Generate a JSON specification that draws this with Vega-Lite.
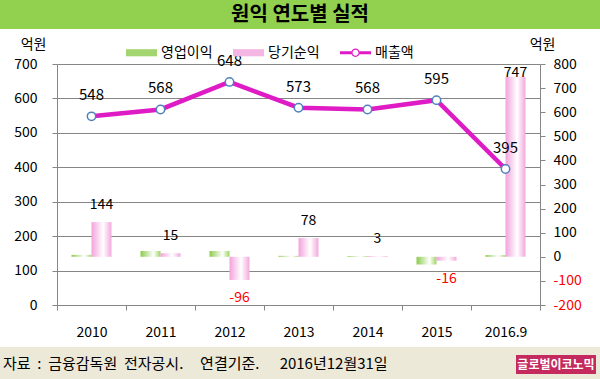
{
  "$schema": "https://vega.github.io/schema/vega-lite/v6.json",
  "padding": 0,
  "background": "white",
  "config": {"font": "Noto Sans CJK KR", "view": {"stroke": null}},
  "datasets": {
    "bars": [
      {"year": "2010", "series": "영업이익", "value": 8},
      {"year": "2010", "series": "당기순익", "value": 144},
      {"year": "2011", "series": "영업이익", "value": 24},
      {"year": "2011", "series": "당기순익", "value": 15},
      {"year": "2012", "series": "영업이익", "value": 24},
      {"year": "2012", "series": "당기순익", "value": -96},
      {"year": "2013", "series": "영업이익", "value": 4},
      {"year": "2013", "series": "당기순익", "value": 78},
      {"year": "2014", "series": "영업이익", "value": 3},
      {"year": "2014", "series": "당기순익", "value": 3},
      {"year": "2015", "series": "영업이익", "value": -32},
      {"year": "2015", "series": "당기순익", "value": -16},
      {"year": "2016.9", "series": "영업이익", "value": 7},
      {"year": "2016.9", "series": "당기순익", "value": 747}
    ],
    "revenue": [
      {"year": "2010", "revenue": 548},
      {"year": "2011", "revenue": 568},
      {"year": "2012", "revenue": 648},
      {"year": "2013", "revenue": 573},
      {"year": "2014", "revenue": 568},
      {"year": "2015", "revenue": 595},
      {"year": "2016.9", "revenue": 395}
    ]
  },
  "spacing": 8,
  "vconcat": [
    {
      "width": 600,
      "height": 29,
      "view": {"fill": "#92D050", "stroke": null},
      "data": {"values": [{"t": "원익 연도별 실적"}]},
      "mark": {"type": "text", "fontSize": 20, "fontWeight": "bold", "color": "#000000"},
      "encoding": {"text": {"field": "t", "type": "nominal"}}
    },
    {
      "spacing": 0,
      "hconcat": [
        {"width": 1, "height": 1, "data": {"values": []}, "mark": "point"},
        {
          "width": 483,
          "height": 241,
          "view": {"fill": "white", "stroke": null},
          "encoding": {
            "x": {
              "field": "year",
              "type": "nominal",
              "scale": {"domain": ["2010", "2011", "2012", "2013", "2014", "2015", "2016.9"], "paddingInner": 0, "paddingOuter": 0},
              "axis": {"title": null, "labelAngle": 0, "labelFontSize": 14, "labelColor": "#000000", "labelPadding": 15, "tickBand": "extent", "tickSize": 5, "tickColor": "#868686", "domainColor": "#868686", "grid": false}
            }
          },
          "layer": [
            {
              "data": {"name": "bars"},
              "encoding": {
                "y": {
                  "field": "value",
                  "type": "quantitative",
                  "scale": {"domain": [-200, 800]},
                  "axis": {
                    "orient": "right",
                    "title": "억원",
                    "titleAngle": 0,
                    "titleAlign": "center",
                    "titleBaseline": "middle",
                    "titleX": 2,
                    "titleY": -20,
                    "titleFontSize": 14,
                    "titleFontWeight": "normal",
                    "titleColor": "#000000",
                    "values": [-200, -100, 0, 100, 200, 300, 400, 500, 600, 700, 800],
                    "labelExpr": "'' + datum.value",
                    "grid": false,
                    "labelFontSize": 14,
                    "labelColor": {"condition": {"test": "datum.value < 0", "value": "#FF0000"}, "value": "#000000"},
                    "labelPadding": 8,
                    "tickSize": 5,
                    "tickColor": "#868686",
                    "domainColor": "#868686"
                  }
                }
              },
              "layer": [
                {
                  "mark": {"type": "point", "filled": true, "opacity": 0},
                  "encoding": {
                    "color": {
                      "field": "series",
                      "type": "nominal",
                      "scale": {"domain": ["영업이익", "당기순익", "매출액"], "range": ["#A3D670", "#F4B6E3", "#DF1BC6"]},
                      "legend": {
                        "title": null,
                        "orient": "none",
                        "direction": "horizontal",
                        "legendX": 126,
                        "legendY": 37,
                        "labelFontSize": 14,
                        "labelColor": "#000000",
                        "labelOffset": 4,
                        "columnPadding": 20,
                        "symbolSize": 961,
                        "encode": {
                          "symbols": {
                            "update": {
                              "shape": {"signal": "datum.value === '매출액' ? 'M-1,-0.1H-0.26V0.1H-1Z M0.26,-0.1H1V0.1H0.26Z M0.27,0A0.27,0.27 0 1 0 -0.27,0A0.27,0.27 0 1 0 0.27,0Z M0.19,0A0.19,0.19 0 1 1 -0.19,0A0.19,0.19 0 1 1 0.19,0Z' : 'M-1,-0.23H1V0.23H-1Z'"},
                              "strokeWidth": {"value": 0},
                              "opacity": {"value": 1}
                            }
                          }
                        }
                      }
                    }
                  }
                },
                {
                  "mark": {"type": "bar"},
                  "encoding": {
                    "xOffset": {"field": "series", "type": "nominal", "scale": {"domain": ["영업이익", "당기순익"], "paddingInner": 0, "paddingOuter": 0.725}},
                    "color": {
                      "condition": {
                        "test": "datum.series === '영업이익'",
                        "value": {"gradient": "linear", "x1": 0, "x2": 1, "y1": 0, "y2": 0, "stops": [{"offset": 0, "color": "#8CCB4C"}, {"offset": 0.65, "color": "#FFFFFF"}, {"offset": 1, "color": "#9CD563"}]}
                      },
                      "value": {"gradient": "linear", "x1": 0, "x2": 1, "y1": 0, "y2": 0, "stops": [{"offset": 0, "color": "#F2A2DC"}, {"offset": 0.58, "color": "#FFFFFF"}, {"offset": 1, "color": "#F2A8DE"}]}
                    }
                  }
                },
                {
                  "transform": [{"filter": "datum.series === '당기순익' && datum.value >= 0 && datum.value <= 650"}],
                  "mark": {"type": "text", "dy": -17, "fontSize": 14, "color": "#000000", "baseline": "middle"},
                  "encoding": {
                    "xOffset": {"field": "series", "type": "nominal", "scale": {"domain": ["영업이익", "당기순익"], "paddingInner": 0, "paddingOuter": 0.725}},
                    "text": {"field": "value", "type": "nominal"}
                  }
                },
                {
                  "transform": [{"filter": "datum.series === '당기순익' && datum.value > 650"}],
                  "mark": {"type": "text", "dy": -4, "fontSize": 14, "color": "#000000", "baseline": "middle"},
                  "encoding": {
                    "xOffset": {"field": "series", "type": "nominal", "scale": {"domain": ["영업이익", "당기순익"], "paddingInner": 0, "paddingOuter": 0.725}},
                    "text": {"field": "value", "type": "nominal"}
                  }
                },
                {
                  "transform": [{"filter": "datum.series === '당기순익' && datum.value < 0"}],
                  "mark": {"type": "text", "dy": 18, "fontSize": 14, "color": "#FF0000", "baseline": "middle"},
                  "encoding": {
                    "xOffset": {"field": "series", "type": "nominal", "scale": {"domain": ["영업이익", "당기순익"], "paddingInner": 0, "paddingOuter": 0.725}},
                    "text": {"field": "value", "type": "nominal"}
                  }
                }
              ]
            },
            {
              "data": {"name": "revenue"},
              "encoding": {
                "y": {
                  "field": "revenue",
                  "type": "quantitative",
                  "scale": {"domain": [0, 700]},
                  "axis": {
                    "orient": "left",
                    "title": "억원",
                    "titleAngle": 0,
                    "titleAlign": "center",
                    "titleBaseline": "middle",
                    "titleX": -24,
                    "titleY": -20,
                    "titleFontSize": 14,
                    "titleFontWeight": "normal",
                    "titleColor": "#000000",
                    "values": [0, 100, 200, 300, 400, 500, 600, 700],
                    "grid": true,
                    "gridColor": "#868686",
                    "gridWidth": 1,
                    "labelFontSize": 14,
                    "labelColor": "#000000",
                    "labelPadding": 15,
                    "minExtent": 56,
                    "tickSize": 5,
                    "tickColor": "#868686",
                    "domainColor": "#868686"
                  }
                }
              },
              "layer": [
                {"mark": {"type": "line", "color": "#DF1BC6", "strokeWidth": 4.5}},
                {"mark": {"type": "point", "filled": true, "fill": "#FFFFFF", "stroke": "#4F81BD", "strokeWidth": 1.5, "size": 70, "opacity": 1}},
                {
                  "mark": {"type": "text", "dy": -21, "fontSize": 15, "color": "#000000", "baseline": "middle"},
                  "encoding": {"text": {"field": "revenue", "type": "nominal"}}
                }
              ]
            }
          ],
          "resolve": {"scale": {"y": "independent"}}
        }
      ]
    },
    {
      "width": 600,
      "height": 33,
      "view": {"fill": "#ECE9D8", "stroke": null},
      "encoding": {
        "x": {"field": "k", "type": "quantitative", "scale": {"domain": [0, 1]}, "axis": null}
      },
      "layer": [
        {
          "data": {"values": [{"k": 0, "t": "자료\u00a0\u00a0:\u00a0\u00a0금융감독원\u00a0\u00a0전자공시.\u00a0\u00a0\u00a0\u00a0 연결기준.\u00a0\u00a0\u00a0\u00a0\u00a0 2016년12월31일"}]},
          "mark": {"type": "text", "align": "left", "dx": 3, "fontSize": 15, "color": "#000000"},
          "encoding": {"text": {"field": "t", "type": "nominal"}}
        },
        {
          "data": {"values": [{"k": 1}]},
          "mark": {"type": "point", "shape": "M-1,-0.24H1V0.24H-1Z", "size": 6400, "filled": true, "color": "#C52A5E", "opacity": 1, "xOffset": -44, "yOffset": 1}
        },
        {
          "data": {"values": [{"k": 1, "t": "글로벌이코노믹"}]},
          "mark": {"type": "text", "dx": -44, "dy": 1, "fontSize": 12, "fontWeight": "bold", "color": "#FFFFFF"},
          "encoding": {"text": {"field": "t", "type": "nominal"}}
        }
      ]
    }
  ]
}
